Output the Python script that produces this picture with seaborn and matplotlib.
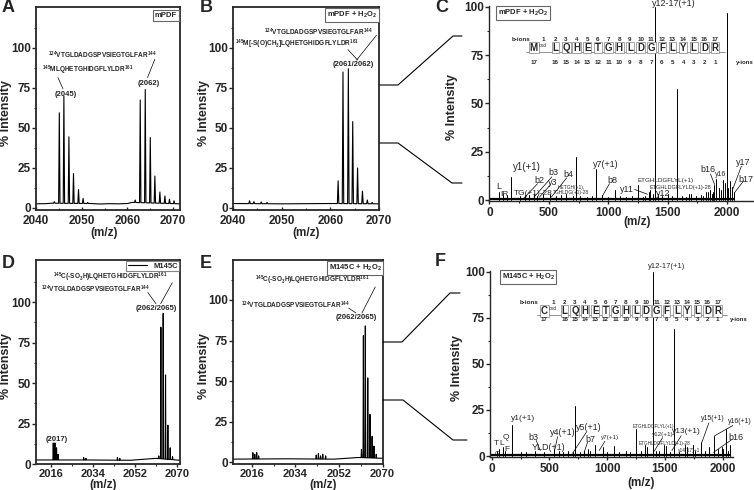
import numpy as np
import pandas as pd
import seaborn as sns
import matplotlib.pyplot as plt
from matplotlib.ticker import MultipleLocator, FixedLocator
from matplotlib.lines import Line2D

# ---- data ----
# A: mPDF, profile spectrum
a_mz = [2044.0, 2045.1, 2046.1, 2047.2, 2048.2, 2049.3, 2050.3, 2051.3, 2061.7, 2062.8, 2063.9, 2065.0, 2066.0, 2067.1, 2068.2, 2069.2, 2070.2]
a_int = [4, 59.5, 70, 44.5, 21.5, 11.5, 6, 3.5, 5, 67.5, 74, 44, 20, 10, 7.5, 5.5, 4.5]
a_base_mz = [2040, 2042, 2043.5, 2052, 2054, 2056, 2058, 2060, 2061, 2071.5]
a_base = [2.6, 2.7, 3.0, 2.8, 2.5, 2.7, 2.6, 2.8, 3.5, 2.6]

# B: mPDF + H2O2
b_mz = [2043.4, 2044.3, 2045.8, 2047.0, 2061.6, 2062.6, 2063.7, 2064.6, 2065.6, 2066.6, 2067.6, 2068.6]
b_int = [4.5, 4, 3.8, 3.5, 17, 85, 87, 54, 25, 10.5, 5, 3.5]
b_base_mz = [2040, 2050, 2060, 2070]
b_base = [2.8, 2.6, 2.8, 2.6]

# D: M145C
d_mz = [2017.0, 2017.7, 2018.4, 2019.1, 2030.0, 2031.0, 2044.5, 2045.5, 2062.2, 2063.1, 2064.1, 2065.1, 2066.1, 2067.1, 2068.1]
d_int = [13, 13, 10, 6, 4, 3.5, 4, 3.5, 5, 84.5, 93, 55, 24, 10, 4.5]
d_base_mz = [2009.6, 2030, 2050, 2061, 2071.3]
d_base = [2.5, 2.5, 2.3, 3.5, 2.3]

# E: M145C + H2O2
e_mz = [2016.4, 2017.2, 2018.0, 2018.8, 2042.6, 2043.5, 2044.4, 2045.3, 2046.5, 2061.3, 2062.1, 2062.9, 2063.9, 2064.8, 2065.7, 2066.5, 2067.4]
e_int = [6, 5, 6, 4, 4.5, 5.5, 4, 5, 4, 8, 78, 84, 52, 29.5, 16, 10, 5]
e_base_mz = [2008.2, 2030, 2050, 2060, 2070.2]
e_base = [2.0, 2.2, 2.0, 3.0, 2.5]

# C: MS/MS of mPDF + H2O2 (stick spectrum)
c_mz = [80, 110, 150, 185, 260, 300, 330, 372, 400, 450, 510, 560, 600, 640, 700, 725, 760, 820, 860, 893,
        950, 1000, 1056, 1100, 1150, 1200, 1252, 1290, 1310, 1340, 1350, 1380, 1397, 1420, 1450, 1500, 1540,
        1577, 1620, 1650, 1680, 1700, 1740, 1780, 1800, 1820, 1840, 1860, 1870, 1880, 1890, 1910, 1930, 1950,
        1969, 1985, 1997, 2010, 2025, 2045, 2060]
c_int = [4, 3, 2.5, 12, 2, 2.5, 2.5, 3, 2, 3, 3, 2, 2.5, 3, 2, 22.5, 2, 1.5, 2, 16,
         2.5, 1.5, 5, 2, 1.5, 2, 8, 1.5, 2, 4, 5, 3, 100, 3, 2, 3, 2,
         57.5, 2, 1.5, 3, 3, 2, 2.5, 2, 4, 4, 5, 3, 4, 8, 11, 6, 5,
         10.5, 9, 97, 6, 10, 7, 4]

# F: MS/MS of M145C + H2O2
f_mz = [45, 60, 100, 115, 175, 250, 300, 375, 450, 540, 580, 620, 660, 700, 722, 760, 800, 830, 855, 892,
        960, 1000, 1059, 1100, 1160, 1200, 1252, 1290, 1330, 1345, 1396, 1420, 1450, 1490, 1510, 1540, 1580,
        1620, 1670, 1690, 1740, 1760, 1813, 1850, 1880, 1922, 1960, 1990, 2000, 2029, 2045, 2064]
f_int = [3, 4, 5, 3, 17, 2, 2, 3, 2, 4, 3, 2, 3, 2, 27, 2, 3, 4, 3, 6,
         5, 2, 5.5, 2, 2.5, 2, 14.5, 3, 6, 5, 100, 3, 2.5, 6, 5.5, 2, 69,
         2, 6, 5, 6, 3, 7.5, 3, 5, 11, 4, 5, 4, 14.5, 3, 6]

seq_c = list('MLQHETGHLDGFLYLDR')
seq_f = list('CLQHETGHLDGFLYLDR')

sns.set_style('ticks')
plt.rcParams['font.family'] = ['Liberation Sans', 'DejaVu Sans']
plt.rcParams['font.weight'] = 'bold'
plt.rcParams['mathtext.fontset'] = 'custom'
plt.rcParams['mathtext.rm'] = 'Liberation Sans:bold'
plt.rcParams['mathtext.bf'] = 'Liberation Sans:bold'
plt.rcParams['mathtext.it'] = 'Liberation Sans:bold'
plt.rcParams['mathtext.default'] = 'rm'

W, H = 754, 490
fig = plt.figure(figsize=(W / 100, H / 100), dpi=100)


def add_ax(l, t, r, b):
    return fig.add_axes([l / W, 1 - b / H, (r - l) / W, (b - t) / H])


def profile(ax, base_mz, base, mz, inten, w=0.15, label=None):
    rows = list(zip(base_mz, base))
    for m, h in zip(mz, inten):
        b0 = np.interp(m, base_mz, base)
        rows += [(m - w, b0), (m, h), (m + w, b0)]
    df = pd.DataFrame(rows, columns=['mz', 'int']).sort_values('mz')
    sns.lineplot(data=df, x='mz', y='int', color='k', lw=0.8, estimator=None, ax=ax, label=label)


def sticks(ax, mz, inten):
    df = pd.DataFrame({'mz': mz, 'int': inten})
    df['pk'] = range(len(df))
    df0 = df.copy()
    df0['int'] = 0
    df = pd.concat([df0, df]).sort_values(['pk', 'int'])
    sns.lineplot(data=df, x='mz', y='int', units='pk', estimator=None, color='k', lw=0.7, ax=ax)
    sns.lineplot(x=[min(mz) - 80, max(mz)], y=[0.6, 0.6], color='k', lw=1.6, ax=ax)


def style(ax, xlim, ylim, box=True, xdir='out', xpad=1.5, xl=(0.5, -0.08), yl=-0.2, xfs=8.5):
    ax.set_xlim(xlim)
    ax.set_ylim(ylim)
    ax.yaxis.set_major_locator(FixedLocator([0, 25, 50, 75, 100]))
    ax.yaxis.set_minor_locator(FixedLocator([12.5, 37.5, 62.5, 87.5, 112.5]))
    ax.tick_params(axis='y', which='major', direction='out', length=3, width=1, labelsize=8.5, pad=0.8)
    ax.tick_params(axis='y', which='minor', direction='out', length=1.8, width=0.8)
    ax.tick_params(axis='x', which='major', direction=xdir, length=2.5, width=1, labelsize=xfs, pad=xpad)
    ax.tick_params(axis='x', which='minor', direction=xdir, length=1.6, width=0.8)
    for lab in ax.get_xticklabels() + ax.get_yticklabels():
        lab.set_fontweight('bold')
    if box:
        for s in ax.spines.values():
            s.set_linewidth(1.3)
    else:
        sns.despine(ax=ax)
        ax.spines['left'].set_linewidth(1)
        ax.spines['bottom'].set_linewidth(1)
    ax.set_xlabel('(m/z)', fontsize=8.5, fontweight='bold')
    ax.set_ylabel('% Intensity', fontsize=9, fontweight='bold')
    ax.xaxis.set_label_coords(*xl)
    ax.yaxis.set_label_coords(yl, 0.48)


def tag(ax, txt, x, y, ha):
    ax.text(x, y, txt, transform=ax.transAxes, ha=ha, va='top', fontsize=5.5,
            bbox=dict(boxstyle='square,pad=0.25', fc='white', ec='0.4', lw=0.8))


def seq(ax, letters, x0, x1, step, yl, yb, yy, mod, step0):
    xs = [x0] + [x1 + step * k for k in range(len(letters) - 1)]
    for i, (x, s) in enumerate(zip(xs, letters)):
        ax.text(x, yl, s, ha='center', va='center', fontsize=7,
                bbox=dict(boxstyle='square,pad=0.08', fc='white', ec='0.5', lw=0.5))
        bx = x + step0 * 0.45 if i == 0 else x
        ax.text(bx, yb, str(i + 1), ha='center', va='center', fontsize=4.5)
        ax.text(x, yy, str(len(letters) - i), ha='center', va='center', fontsize=4.5)
    ax.text(x0 + step0 * 0.42, yl + 1.2, mod, ha='center', va='center', fontsize=3.5, fontweight='normal')
    ax.plot([x0 - step * 0.7, xs[-1] + step * 0.9], [yl - 2.2, yl - 2.2], color='0.5', lw=0.6)


# ---- A ----
axA = add_ax(36, 7, 180, 210)
profile(axA, a_base_mz, a_base, a_mz, a_int)
style(axA, (2040, 2071.5), (-1.25, 125.6), xdir='in', xpad=3.5, xl=(0.47, -0.085), yl=-0.167)
axA.xaxis.set_major_locator(MultipleLocator(10))
axA.xaxis.set_minor_locator(MultipleLocator(5))
tag(axA, 'mPDF', 0.98, 0.975, 'right')
axA.text(2054.5, 95.6, r'$^{124}$VTGLDADGSPVSIEGTGLFAR$^{144}$', fontsize=4.7, ha='center', va='center')
axA.text(2051.3, 86, r'$^{145}$MLQHETGHIDGFLYLDR$^{161}$', fontsize=4.7, ha='center', va='center')
axA.text(2046.5, 71, '(2045)', fontsize=5.5, ha='center', va='center')
axA.text(2064.6, 78, '(2062)', fontsize=5.5, ha='center', va='center')
axA.plot([2044.8, 2045.9], [81.5, 74.5], color='k', lw=0.5)
axA.plot([2066.0, 2064.4], [93, 81.5], color='k', lw=0.5)

# ---- B ----
axB = add_ax(233, 7, 379, 210)
profile(axB, b_base_mz, b_base, b_mz, b_int)
style(axB, (2040, 2070), (-1.25, 125.6), xdir='in', xpad=3.5, xl=(0.5, -0.085), yl=-0.158)
axB.xaxis.set_major_locator(MultipleLocator(10))
axB.xaxis.set_minor_locator(MultipleLocator(5))
tag(axB, 'mPDF + H$_2$O$_2$', 0.985, 0.985, 'right')
axB.text(2057.6, 110, r'$^{124}$VTGLDADGSPVSIEGTGLFAR$^{144}$', fontsize=4.7, ha='center', va='center')
axB.text(2053.1, 102, r'$^{145}$M[-S(O)CH$_3$]LQHETGHIDGFLYLDR$^{161}$', fontsize=4.7, ha='center', va='center')
axB.text(2064.7, 89.4, '(2061/2062)', fontsize=5.5, ha='center', va='center')
axB.plot([2069.5, 2065.4], [108, 92.5], color='k', lw=0.5)
axB.plot([2063.6, 2065.6], [99, 92.5], color='k', lw=0.5)

# ---- C ----
axC = add_ax(489, 6, 753, 201)
sticks(axC, c_mz, c_int)
style(axC, (-4, 2218), (-0.5, 100.5), box=False, xpad=1.5, xl=(0.56, -0.075), yl=-0.117)
axC.xaxis.set_major_locator(MultipleLocator(500))
axC.xaxis.set_minor_locator(MultipleLocator(250))
tag(axC, 'mPDF + H$_2$O$_2$', 0.034, 0.99, 'left')
seq(axC, seq_c, 373, 555, 89.6, 79, 83.3, 71.3, 'oxd', 182)
axC.text(266, 83.3, 'b-ions', fontsize=4.5, ha='center', va='center')
axC.text(2075, 71.3, 'y-ions', fontsize=4.3, ha='left', va='center')
axC.text(1555, 102, 'y12-17(+1)', fontsize=6.5, fontweight='normal', ha='center', va='center', clip_on=False)
c_labels = [('y1(+1)', 317, 17, 7), ('b3', 541, 14.3, 6.5), ('b4', 667, 13.2, 6.5), ('b2', 423, 10.3, 6.5),
            ('y3', 530, 9.0, 6.5), ('b8', 1031, 10.3, 6.5), ('y7(+1)', 983, 18.4, 6.5), ('y11', 1157, 5.5, 6.5),
            ('y12', 1465, 3.3, 6.5), ('b16', 1835, 15.8, 6.5), ('y16', 1947, 13.2, 5), ('y17', 2137, 19.7, 6.5),
            ('b17', 2160, 10.7, 6.5), ('ETGHLDGFLYL(+1)', 1479, 10.3, 4.5), ('ETGHLDGFLYLD(+1)-28', 1605, 6.6, 4),
            ('HETGH(+1),', 685, 6.5, 3.5), ('TGHLDG(+1)-28', 685, 3.8, 3.5), ('L', 80, 7.2, 6.5),
            ('IR', 128, 3.0, 6), ('TG(+1)-28', 365, 3.4, 6)]
for t, x, y, fs in c_labels:
    axC.text(x, y, t, fontsize=fs, fontweight='normal', ha='center', va='center')
for xs, ys in [([405, 290], [8.5, 1]), ([525, 375], [12, 1.5]), ([515, 420], [8, 1.5]), ([650, 520], [11.5, 1.5]),
               ([1010, 950], [8.5, 2]), ([1220, 1330], [5.5, 3]), ([1860, 1895], [13.5, 8]),
               ([2120, 2050], [17.5, 6]), ([2140, 2065], [10, 4])]:
    axC.plot(xs, ys, color='k', lw=0.5)

# ---- D ----
axD = add_ax(36, 260, 180, 464)
profile(axD, d_base_mz, d_base, d_mz, d_int, label='M145C')
style(axD, (2009.6, 2071.3), (0, 126), xpad=0.8, xl=(0.465, -0.072), yl=-0.167, xfs=8)
axD.xaxis.set_major_locator(FixedLocator([2016, 2034, 2052, 2070]))
axD.xaxis.set_minor_locator(FixedLocator([2025, 2043, 2061]))
axD.legend(loc='upper right', fontsize=5.5, frameon=True, fancybox=False, edgecolor='0.4',
           borderpad=0.2, borderaxespad=0.1, handlelength=2.5)
axD.get_legend().get_frame().set_linewidth(0.8)
axD.text(2041.6, 115, r'$^{145}$C(-SO$_3$H)LQHETGHIDGFLYLDR$^{161}$', fontsize=4.7, ha='center', va='center')
axD.text(2034.9, 108, r'$^{124}$VTGLDADGSPVSIEGTGLFAR$^{144}$', fontsize=4.7, ha='center', va='center')
axD.text(2061, 96, '(2062/2065)', fontsize=5.5, ha='center', va='center')
axD.text(2018.4, 15.2, '(2017)', fontsize=5.5, ha='center', va='center')
axD.plot([2068, 2063], [112, 99], color='k', lw=0.5)
axD.plot([2057.5, 2061], [106, 99], color='k', lw=0.5)

# ---- E ----
axE = add_ax(233, 260, 383, 464)
profile(axE, e_base_mz, e_base, e_mz, e_int)
style(axE, (2008.2, 2070.2), (-1, 124.6), xpad=0.8, xl=(0.6, -0.072), yl=-0.153, xfs=8)
axE.xaxis.set_major_locator(FixedLocator([2016, 2034, 2052, 2070]))
axE.xaxis.set_minor_locator(FixedLocator([2025, 2043, 2061]))
tag(axE, 'M145C + H$_2$O$_2$', 0.99, 0.985, 'right')
axE.text(2040.9, 112, r'$^{145}$C(-SO$_3$H)LQHETGHIDGFLYLDR$^{161}$', fontsize=4.7, ha='center', va='center')
axE.text(2034, 96.5, r'$^{124}$VTGLDADGSPVSIEGTGLFAR$^{144}$', fontsize=4.7, ha='center', va='center')
axE.text(2059.2, 89, '(2062/2065)', fontsize=5.5, ha='center', va='center')
axE.plot([2067, 2061.5], [108, 92], color='k', lw=0.5)
axE.plot([2056, 2059], [95, 92], color='k', lw=0.5)

# ---- F ----
axF = add_ax(490, 271, 733, 457)
sticks(axF, f_mz, f_int)
style(axF, (-15, 2089), (-0.5, 100.3), box=False, xpad=1.5, xl=(0.62, -0.105), yl=-0.111)
axF.xaxis.set_major_locator(MultipleLocator(500))
axF.xaxis.set_minor_locator(MultipleLocator(250))
tag(axF, 'M145C + H$_2$O$_2$', 0.048, 0.995, 'left')
seq(axF, seq_f, 455, 632, 88.3, 78.6, 83.1, 74.1, 'oxd', 177)
axF.text(322, 83.1, 'b-ions', fontsize=4.5, ha='center', va='center')
axF.text(2060, 74.1, 'y-ions', fontsize=4.3, ha='left', va='center', clip_on=False)
axF.text(1511, 103, 'y12-17(+1)', fontsize=5.5, fontweight='normal', ha='center', va='center', clip_on=False)
f_labels = [('y1(+1)', 268, 20.3, 6), ('y4(+1)', 618, 12.6, 6.5), ('y5(+1)', 843, 15.3, 6.5), ('b3', 359, 10.2, 6.5),
            ('YLD(+1)', 489, 4.5, 6.5), ('b7', 858, 9, 6.5), ('y7(+1)', 1022, 9.9, 4.5),
            ('ETGHLDGFLYL(+1)', 1396, 16.2, 3.3), ('y12(+1)', 1482, 11.7, 4.5), ('ETGHLDGFLYLD(+1)-28', 1497, 6.8, 3.3),
            ('y13(+1)', 1684, 13.1, 6), ('y14(17)+1', 1712, 3.2, 3.5), ('y15(+1)', 1914, 20.1, 5),
            ('b16', 2116, 10.2, 6.5), ('T', 40, 6.8, 6), ('L', 84, 6.8, 6),
            ('Q', 126, 10.2, 6), ('G', 48, 1.6, 4.5), ('F', 132, 3.4, 6)]
for t, x, y, fs in f_labels:
    axF.text(x, y, t, fontsize=fs, fontweight='normal', ha='center', va='center', clip_on=False)
axF.text(2250, 18.9, 'y16(+1)', fontsize=5, fontweight='normal', ha='right', va='center', clip_on=False)
for xs, ys in [([570, 545], [10.5, 3]), ([820, 700], [13, 1.5]), ([385, 420], [8.5, 3]), ([830, 800], [7.5, 2]),
               ([980, 930], [8, 3]), ([1480, 1400], [10, 2]), ([1640, 1560], [11, 3]), ([1880, 1820], [18, 7.5]),
               ([2100, 1930], [17, 11]), ([2080, 1920], [9, 2])]:
    axF.plot(xs, ys, color='k', lw=0.5)

# ---- zoom connectors and panel letters ----
for xs, ys in [([380, 398, 453, 462], [85, 85, 36, 36]), ([380, 398, 452, 462], [143, 143, 183, 183]),
               ([383, 402, 450, 460], [342, 342, 293, 293]), ([383, 403, 453, 467], [400, 400, 440, 440])]:
    fig.add_artist(Line2D([x / W for x in xs], [1 - y / H for y in ys], color='k', lw=0.8))
for t, x, y in [('A', 8, 8), ('B', 206, 8), ('C', 442, 7), ('D', 8, 264), ('E', 206, 264), ('F', 440, 262)]:
    fig.text(x / W, 1 - y / H, t, fontsize=13, fontweight='bold', ha='center', va='center')

fig.savefig('out.png', dpi=100)
